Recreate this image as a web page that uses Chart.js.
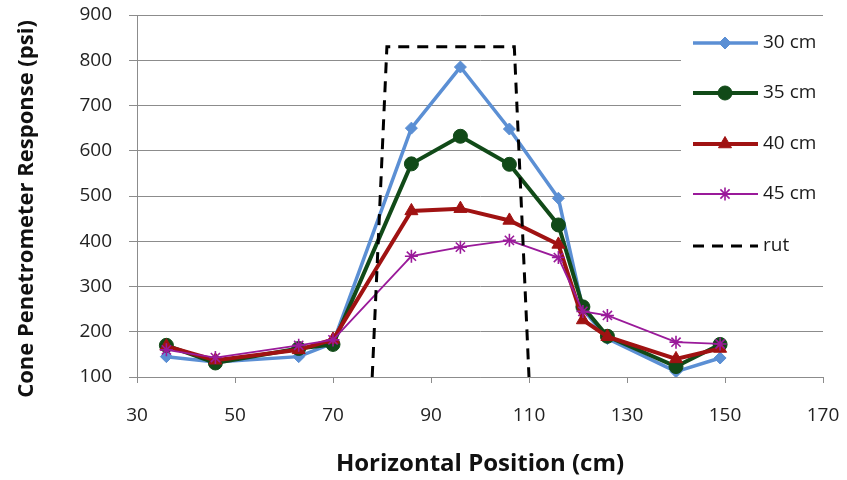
<!DOCTYPE html>
<html>
<head>
<meta charset="utf-8">
<script src="https://cdn.jsdelivr.net/npm/chart.js@4/dist/chart.umd.min.js"></script>
<style>
  html, body { margin: 0; padding: 0; background: #ffffff; }
  #wrap { width: 847px; height: 480px; position: relative; }
</style>
</head>
<body>
<div id="wrap"><canvas id="c" width="847" height="480"></canvas></div>
<script>
// ---- data ----
const positions = [36, 46, 63, 70, 86, 96, 106, 116, 121, 126, 140, 149];
const seriesLabels = ['30 cm', '35 cm', '40 cm', '45 cm'];
const cm30 = [145, 133, 145, 175, 650, 785, 648, 495, 250, 185, 112, 142];
const cm35 = [170, 131, 163, 172, 571, 632, 570, 436, 255, 190, 123, 172];
const cm40 = [168, 137, 160, 183, 467, 472, 446, 393, 226, 189, 140, 163];
const cm45 = [160, 143, 170, 182, 367, 387, 402, 364, 245, 236, 177, 173];
const rutLabel = 'rut';
const rutX = [78, 81, 107, 110];
const rutY = [100, 830, 830, 100];
const xTicks = [30, 50, 70, 90, 110, 130, 150, 170];
const yTicks = [100, 200, 300, 400, 500, 600, 700, 800, 900];
const xTitle = 'Horizontal Position (cm)';
const yTitle = 'Cone Penetrometer Response (psi)';

const FONT = '"Open Sans", Lato, sans-serif';
const toPts = (xs, ys) => xs.map((x, i) => ({ x: x, y: ys[i] }));

const styles = [
  { color: '#5b8fd4', width: 3.5, point: 'rectRot', radius: 6 },
  { color: '#114a18', width: 4, point: 'circle', radius: 7 },
  { color: '#a01212', width: 4, point: 'triangle', radius: 7.5 },
  { color: '#9a1a9a', width: 1.8, point: 'star', radius: 6.5 }
];
const values = [cm30, cm35, cm40, cm45];

const datasets = values.map((vals, i) => ({
  label: seriesLabels[i],
  data: toPts(positions, vals),
  borderColor: styles[i].color,
  backgroundColor: styles[i].color,
  borderWidth: styles[i].width,
  pointStyle: styles[i].point,
  pointRadius: styles[i].radius,
  pointBorderWidth: i === 3 ? 1.6 : 1,
  pointBorderColor: styles[i].color,
  pointBackgroundColor: styles[i].color,
  tension: 0,
  order: 5 - i
}));
datasets.push({
  label: rutLabel,
  data: toPts(rutX, rutY),
  borderColor: '#000000',
  backgroundColor: '#000000',
  borderWidth: 3,
  borderDash: [11, 8],
  pointRadius: 0,
  tension: 0,
  order: 0,
  clip: false
});

const bgPlugin = {
  id: 'bg',
  beforeDraw(chart) {
    const ctx = chart.ctx;
    ctx.save();
    ctx.fillStyle = '#ffffff';
    ctx.fillRect(0, 0, chart.width, chart.height);
    ctx.restore();
  },
  afterDraw(chart) {
    // vertical axis title, centred where the reference has it
    const ctx = chart.ctx;
    ctx.save();
    ctx.translate(27, 209);
    ctx.rotate(-Math.PI / 2);
    ctx.fillStyle = '#111111';
    ctx.font = 'bold 22px ' + FONT;
    ctx.textAlign = 'center';
    ctx.textBaseline = 'middle';
    ctx.fillText(yTitle, 0, 0);
    ctx.restore();
  }
};

const legendPlugin = {
  id: 'customLegend',
  afterDatasetsDraw(chart) {
    const ctx = chart.ctx;
    ctx.save();
    ctx.fillStyle = '#ffffff';
    ctx.fillRect(681, 24, 166, 244);
    const rowY = [43, 93, 144, 194, 246];
    const x0 = 693, x1 = 758, xm = 725;
    chart.data.datasets.forEach((ds, i) => {
      const y = rowY[i];
      ctx.strokeStyle = ds.borderColor;
      ctx.lineWidth = ds.borderWidth;
      ctx.setLineDash(ds.borderDash || []);
      ctx.beginPath();
      ctx.moveTo(x0, y);
      ctx.lineTo(x1, y);
      ctx.stroke();
      ctx.setLineDash([]);
      if (ds.pointRadius > 0) {
        ctx.fillStyle = ds.pointBackgroundColor;
        ctx.strokeStyle = ds.pointBorderColor;
        ctx.lineWidth = ds.pointBorderWidth;
        Chart.helpers.drawPoint(ctx, {
          pointStyle: ds.pointStyle,
          radius: ds.pointRadius,
          rotation: 0,
          borderWidth: ds.pointBorderWidth
        }, xm, y);
      }
      ctx.fillStyle = '#1a1a1a';
      ctx.font = '19px ' + FONT;
      ctx.textAlign = 'left';
      ctx.textBaseline = 'middle';
      ctx.fillText(ds.label, 763, y);
    });
    ctx.restore();
  }
};

new Chart(document.getElementById('c'), {
  type: 'line',
  data: { datasets: datasets },
  options: {
    responsive: false,
    animation: false,
    events: [],
    layout: { padding: { left: 0, right: 24, top: 15, bottom: 0 } },
    plugins: { legend: { display: false }, tooltip: { enabled: false } },
    scales: {
      x: {
        type: 'linear',
        min: 30, max: 170,
        afterBuildTicks(scale) { scale.ticks = xTicks.map(v => ({ value: v })); },
        afterFit(scale) { scale.height = 103; scale.paddingLeft = 0; scale.paddingRight = 0; },
        grid: { drawOnChartArea: false, drawTicks: true, tickLength: 6, color: '#8c8c8c', lineWidth: 1 },
        border: { display: true, color: '#8c8c8c', width: 1 },
        ticks: { color: '#222222', font: { family: FONT, size: 19 }, padding: 21, maxRotation: 0 },
        title: { display: true, text: xTitle, color: '#111111', font: { family: FONT, size: 24, weight: 'bold' }, padding: { top: 0, bottom: 1 } }
      },
      y: {
        type: 'linear',
        min: 100, max: 900,
        afterBuildTicks(scale) { scale.ticks = yTicks.map(v => ({ value: v })); },
        afterFit(scale) { scale.width = 137; scale.paddingTop = 0; scale.paddingBottom = 0; },
        grid: { drawOnChartArea: true, drawTicks: true, tickLength: 8, color: '#8c8c8c', lineWidth: 1 },
        border: { display: true, color: '#8c8c8c', width: 1 },
        ticks: { color: '#222222', font: { family: FONT, size: 19 }, padding: 17 },
        title: { display: false }
      }
    }
  },
  plugins: [bgPlugin, legendPlugin]
});
</script>
</body>
</html>
